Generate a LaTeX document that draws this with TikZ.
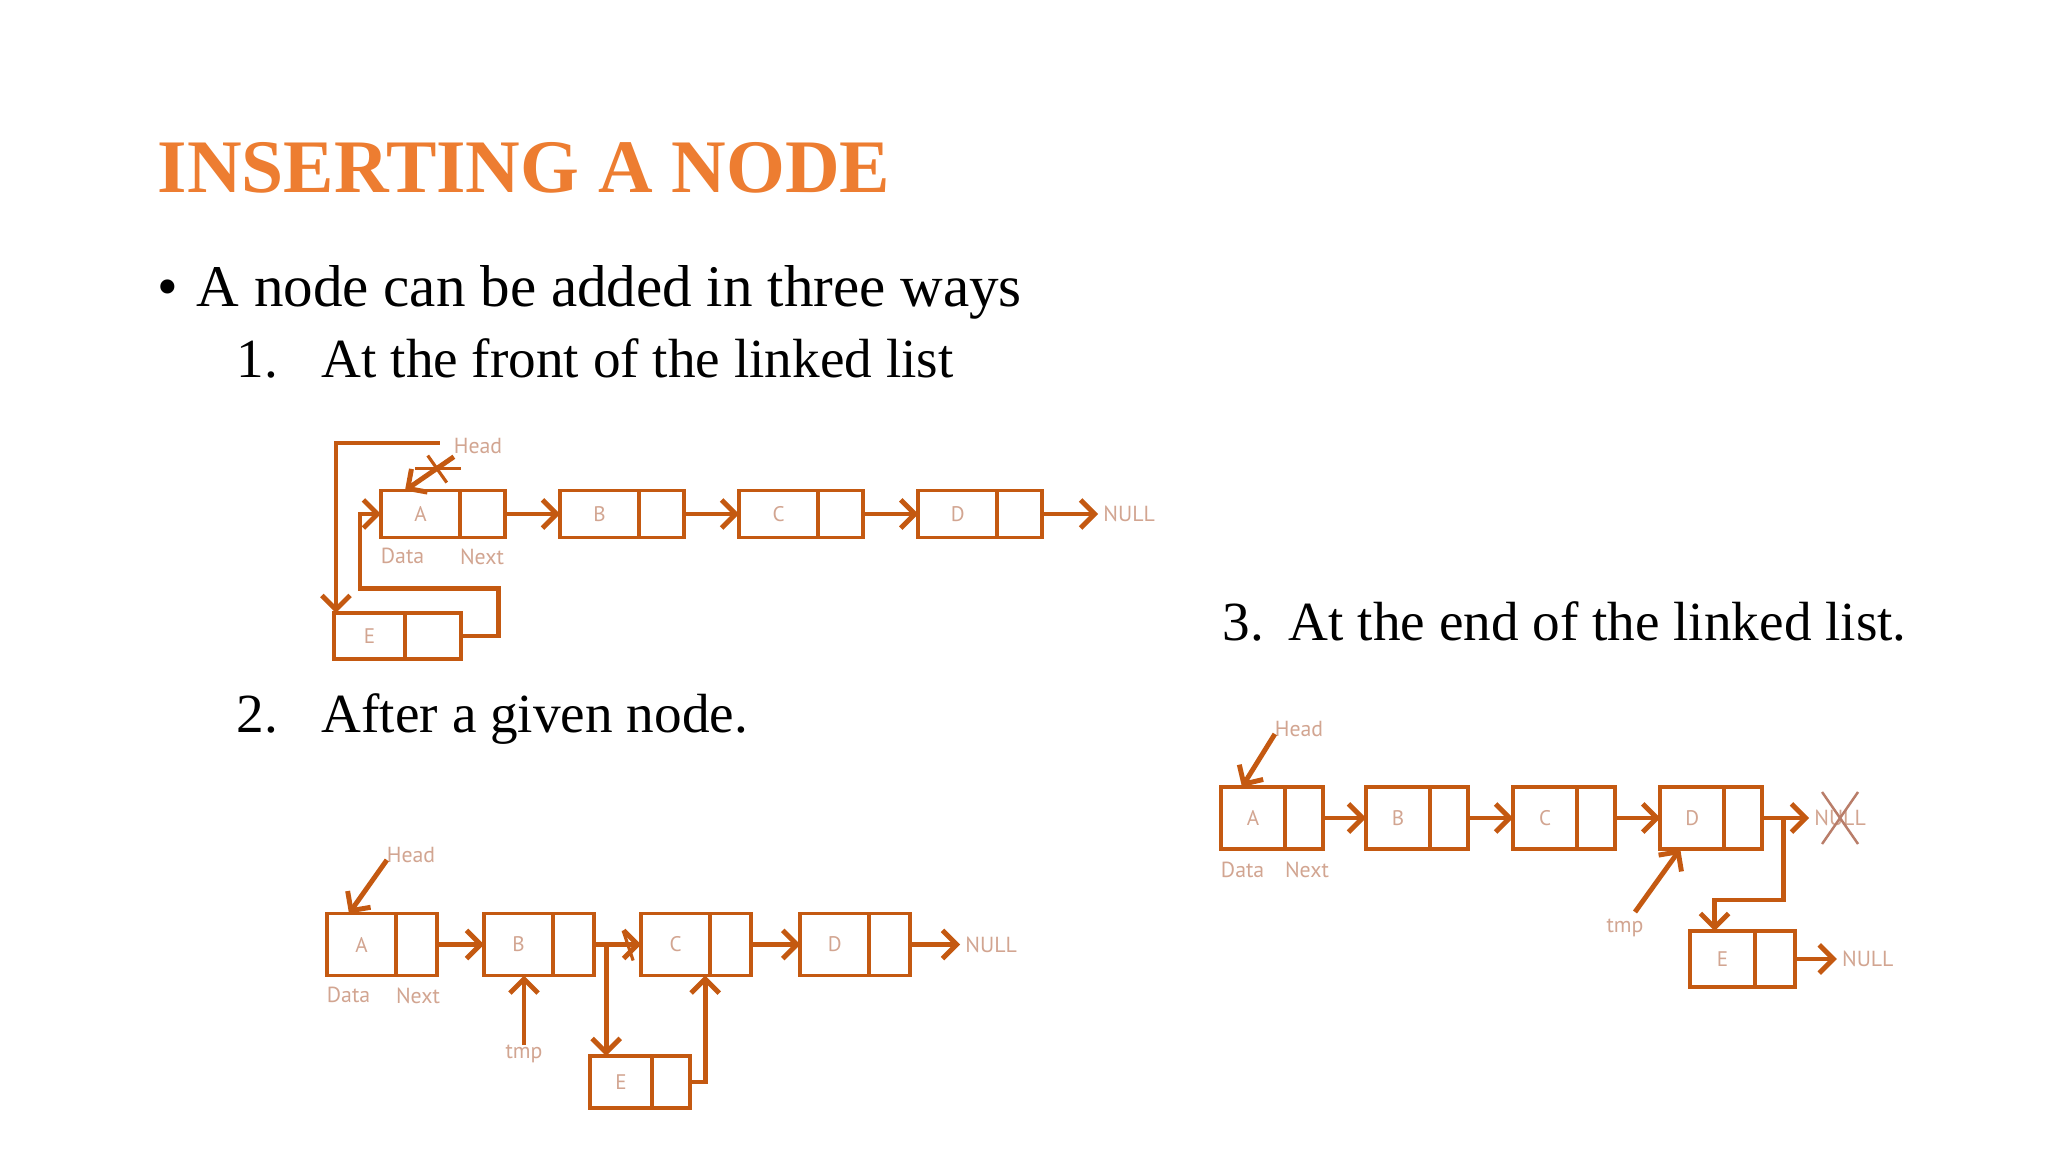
\documentclass[tikz,border=0pt]{standalone}
\usepackage{fontspec}
\setmainfont{Liberation Serif}
\newfontfamily\lblfont{PT Sans}
\usetikzlibrary{arrows.meta,positioning}
\definecolor{Rust}{RGB}{196,89,17}
\definecolor{Tangerine}{RGB}{237,125,49}
\definecolor{Blush}{RGB}{210,165,145}
\definecolor{Ash}{RGB}{185,125,105}
\tikzset{
  dcell/.style={rectangle,draw=Rust,line width=1.1pt,inner sep=0pt,outer sep=0pt,
                font=\lblfont\fontsize{6}{7}\selectfont,text=Blush},
  ncell/.style={dcell},
  lbl/.style={font=\lblfont\fontsize{6.2}{7.5}\selectfont,text=Blush,inner sep=0pt,outer sep=0pt},
  link/.style={-{Straight Barb[length=4pt,width=8pt]},Rust,line width=1.4pt},
  tonull/.style={link,shorten >=1.5pt},
  cut/.style={Rust,line width=.9pt},
  heading/.style={anchor=base west,inner sep=0pt,text=Tangerine,font=\fontsize{21.5}{26}\selectfont\bfseries},
  bodytext/.style={anchor=base west,inner sep=0pt,font=\fontsize{16.8}{20}\selectfont},
  itemtext/.style={anchor=base west,inner sep=0pt,font=\fontsize{15.7}{19}\selectfont},
}

\begin{document}
\begin{tikzpicture}[x=0.01cm,y=-0.01cm]
\useasboundingbox[fill=white] (0,0) rectangle (2048,1152);

% slide text
\node[heading] (title) at (157,193) {INSERTING A NODE};
\node[bodytext] (bul) at (157,307) {•};
\node[bodytext] (intro) at (196,307) {A node can be added in three ways};
\node[itemtext] (num1) at (236,378) {1.};
\node[itemtext] (way1) at (321,378) {At the front of the linked list};
\node[itemtext] (num2) at (236,732) {2.};
\node[itemtext] (way2) at (321,732) {After a given node.};
\node[itemtext] (num3) at (1222,640) {3.};
\node[itemtext] (way3) at (1288,640) {At the end of the linked list.};

% 1. insert at front
\begin{scope}[dcell/.append style={minimum width=.79cm,minimum height=.47cm},
              ncell/.append style={minimum width=.45cm}]
  \node[dcell] (fa) at (420.5,514) {A};
  \node[ncell,right=0pt of fa] (fan) {};
  \node[dcell,right=.55cm of fan] (fb) {B};
  \node[ncell,right=0pt of fb] (fbn) {};
  \node[dcell,right=.55cm of fbn] (fc) {C};
  \node[ncell,right=0pt of fc] (fcn) {};
  \node[dcell,right=.55cm of fcn] (fd) {D};
  \node[ncell,right=0pt of fd] (fdn) {};
  \node[lbl,right=.61cm of fdn] (fnull) {NULL};
  \node[dcell,minimum width=.71cm,minimum height=.46cm] (fe) at (369.5,636) {E};
  \node[ncell,minimum width=.56cm,minimum height=.46cm,right=0pt of fe] (fen) {};
  \node[lbl] (fhead) at (478,446) {Head};
  \node[lbl,anchor=north west] (fdata) at ([yshift=-.11cm]fa.south west) {Data};
  \node[lbl,anchor=north west] (fnext) at ([yshift=-.11cm]fan.south west) {Next};

  \draw[link] (fan) -- (fb);
  \draw[link] (fbn) -- (fc);
  \draw[link] (fcn) -- (fd);
  \draw[tonull] (fdn) -- (fnull);
  \draw[link] ([yshift=-.03cm]fhead.south west) -- coordinate[pos=.35] (fx) ([xshift=.24cm]fa.north west);
  \draw[cut] ([xshift=-.09cm,yshift=.13cm]fx) -- ([xshift=.1cm,yshift=-.14cm]fx);
  \draw[cut] ([xshift=-.22cm]fx) -- ([xshift=.24cm]fx);
  \draw[link] ([xshift=-.14cm,yshift=.03cm]fhead.west) -| ([xshift=.02cm]fe.north west);
  \draw[link] (fen.east) -- ++(.37cm,0) |- ([xshift=-.21cm,yshift=-.74cm]fa.west) |- (fa.west);
\end{scope}

% 2. insert after a given node
\begin{scope}[dcell/.append style={minimum width=.69cm,minimum height=.62cm},
              ncell/.append style={minimum width=.41cm}]
  \node[dcell] (sa) at (361.5,944.5) {A};
  \node[ncell,right=0pt of sa] (san) {};
  \node[dcell,right=.47cm of san] (sb) {B};
  \node[ncell,right=0pt of sb] (sbn) {};
  \node[dcell,right=.47cm of sbn] (sc) {C};
  \node[ncell,right=0pt of sc] (scn) {};
  \node[dcell,right=.49cm of scn] (sd) {D};
  \node[ncell,right=0pt of sd] (sdn) {};
  \node[lbl,right=.55cm of sdn] (snull) {NULL};
  \node[dcell,minimum width=.62cm,minimum height=.52cm] (se) at (621,1082) {E};
  \node[ncell,minimum width=.38cm,minimum height=.52cm,right=0pt of se] (sen) {};
  \node[lbl] (shead) at (411,855) {Head};
  \node[lbl] (stmp) at (524,1054) {tmp};
  \node[lbl,anchor=north west] (sdata) at ([yshift=-.12cm]sa.south west) {Data};
  \node[lbl,anchor=north west] (snext) at ([yshift=-.12cm]san.south west) {Next};

  \draw[link] (san) -- (sb);
  \draw[link] (sbn) -- (sc);
  \draw[link] (scn) -- (sd);
  \draw[tonull] (sdn) -- (snull);
  \draw[link] ([yshift=-.05cm]shead.west) -- ([xshift=.22cm]sa.north west);
  \draw[link] (stmp) -- (stmp |- sb.south);
  \draw[cut] ([xshift=-.18cm,yshift=.14cm]sc.west) -- ([xshift=-.08cm,yshift=-.16cm]sc.west);
  \draw[link] ([xshift=.12cm]sbn.east) -- ([xshift=.12cm]sbn.east |- se.north);
  \draw[link] (sen.east) -| ([xshift=-.05cm]sc.south east);
\end{scope}

% 3. insert at the end
\begin{scope}[dcell/.append style={minimum width=.64cm,minimum height=.62cm},
              ncell/.append style={minimum width=.38cm}]
  \node[dcell] (ta) at (1253,818) {A};
  \node[ncell,right=0pt of ta] (tan) {};
  \node[dcell,right=.43cm of tan] (tb) {B};
  \node[ncell,right=0pt of tb] (tbn) {};
  \node[dcell,right=.45cm of tbn] (tc) {C};
  \node[ncell,right=0pt of tc] (tcn) {};
  \node[dcell,right=.45cm of tcn] (td) {D};
  \node[ncell,right=0pt of td] (tdn) {};
  \node[lbl,right=.52cm of tdn] (tnull) {NULL};
  \node[dcell,minimum width=.65cm,minimum height=.56cm] (te) at (1722.5,959) {E};
  \node[ncell,minimum width=.40cm,minimum height=.56cm,right=0pt of te] (ten) {};
  \node[lbl,right=.47cm of ten] (tend) {NULL};
  \node[lbl] (thead) at (1299,729) {Head};
  \node[lbl] (ttmp) at (1625,928) {tmp};
  \node[lbl,anchor=north west] (tdata) at ([yshift=-.13cm]ta.south west) {Data};
  \node[lbl,anchor=north west] (tnext) at ([yshift=-.13cm]tan.south west) {Next};

  \draw[link] (tan) -- (tb);
  \draw[link] (tbn) -- (tc);
  \draw[link] (tcn) -- (td);
  \draw[tonull] (tdn) -- (tnull);
  \draw[tonull] (ten) -- (tend);
  \draw[Ash,line width=.7pt] ([xshift=-.18cm,yshift=.26cm]tnull.center) -- ([xshift=.18cm,yshift=-.26cm]tnull.center);
  \draw[Ash,line width=.7pt] ([xshift=.18cm,yshift=.26cm]tnull.center) -- ([xshift=-.18cm,yshift=-.26cm]tnull.center);
  \draw[link] ([yshift=-.05cm]thead.west) -- ([xshift=.21cm]ta.north west);
  \draw[link] ([xshift=.1cm,yshift=.07cm]ttmp.north) -- ([xshift=.2cm]td.south west);
  \draw[link] ([xshift=.21cm]tdn.east) |- ([xshift=-.08cm,yshift=.31cm]te.north) -- ([xshift=-.08cm]te.north);
\end{scope}
\end{tikzpicture}
\end{document}
